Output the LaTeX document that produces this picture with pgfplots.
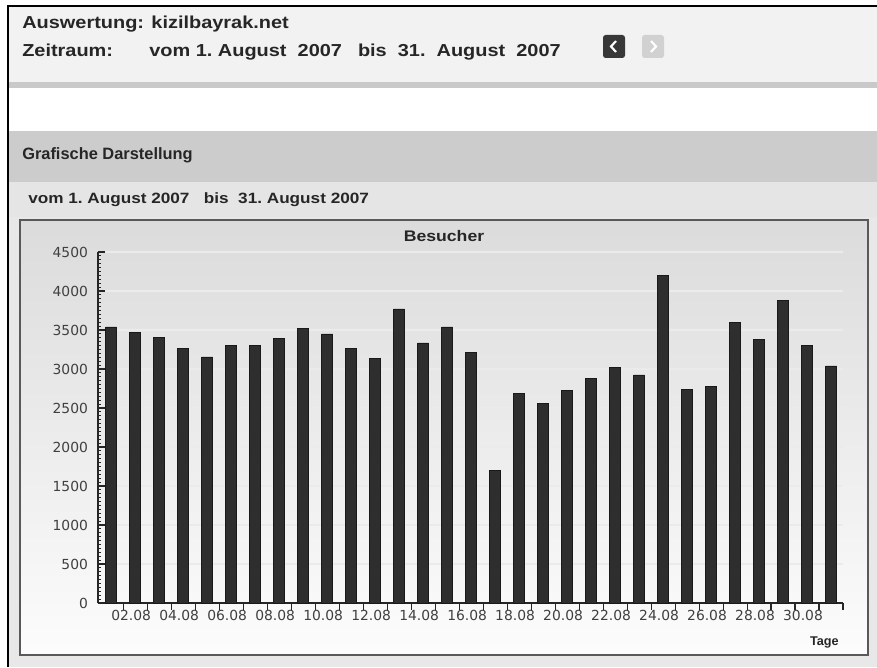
\documentclass[border=0pt]{standalone}
\usepackage{pgfplots}
\pgfplotsset{compat=1.18}
\usepackage{fontspec}
\setmainfont{Liberation Sans}
\newfontfamily\hd[FakeStretch=1.15]{Liberation Sans}
\newfontfamily\tk{DejaVu Sans}

\definecolor{barc}{HTML}{2E2E2E}
\definecolor{lbl}{HTML}{404040}

\begin{document}
\begin{tikzpicture}[x=0.75pt,y=0.75pt]
% page (1 unit = 1 px of the screenshot, y counted from the bottom)
\path[use as bounding box] (0,0) rectangle (877,667);
\fill[white] (0,0) rectangle (877,667);
\fill[black!9] (8,0) rectangle (877,485);
\fill[black!5] (8,585) rectangle (877,661);
\fill[black!21] (8,579) rectangle (877,585);
\fill[white] (8,536) rectangle (877,579);
\fill[black!20] (8,485) rectangle (877,536);
\fill[black!10] (8,450) rectangle (877,485);
\draw[black, line width=1pt] (8,0) -- (8,661) -- (877,661);

% header
\node[anchor=base west, inner sep=0, font=\hd\bfseries\fontsize{13pt}{15pt}\selectfont, text=black!85] at (22,638) {Auswertung: kizilbayrak.net};
\node[anchor=base west, inner sep=0, font=\hd\bfseries\fontsize{13pt}{15pt}\selectfont, text=black!85] at (22,610) {Zeitraum:};
\node[anchor=base west, inner sep=0, font=\hd\bfseries\fontsize{13pt}{15pt}\selectfont, text=black!85] at (149,610) {vom 1.\ August\ \ 2007};
\node[anchor=base east, inner sep=0, font=\hd\bfseries\fontsize{13pt}{15pt}\selectfont, text=black!85] at (561,610) {bis\ \ 31.\ \ August\ \ 2007};
\fill[black!78, rounded corners=2] (603,609) rectangle (625,632);
\draw[white, line width=1.6pt] (616,626) -- (611,620.5) -- (616,615);
\fill[black!18, rounded corners=2] (642,609) rectangle (664,632);
\draw[white, line width=1.6pt] (651,626) -- (656,620.5) -- (651,615);

\node[anchor=base west, inner sep=0, font=\bfseries\fontsize{12.3pt}{14pt}\selectfont, text=black!85] at (22,507) {Grafische Darstellung};
\node[anchor=base west, inner sep=0, font=\hd\bfseries\fontsize{11.2pt}{13pt}\selectfont, text=black!85] at (28,463) {vom 1.\ August\ 2007\ \ \ bis\ \ 31.\ August\ 2007};

% chart box
\shade[top color=black!14, bottom color=black!1] (20,12) rectangle (868,447);
\draw[black!65, line width=1.2pt] (20,12) rectangle (868,447);
\node[anchor=base, inner sep=0, font=\hd\bfseries\fontsize{11.5pt}{13pt}\selectfont, text=black!85] at (444,425) {Besucher};
\node[anchor=base east, inner sep=0, font=\bfseries\fontsize{9.5pt}{11pt}\selectfont, text=black!85] at (839,22) {Tage};

\begin{axis}[
    at={(73.5pt,48pt)}, anchor=south west,
    scale only axis, width=558.75pt, height=263.25pt,
    xmin=0.45, xmax=31.5, ymin=0, ymax=4500,
    axis lines=left,
    axis line style={-, black!85, line width=1pt},
    tick align=inside,
    tick style={black!85, line width=0.8pt},
    major tick length=5pt, minor tick length=2.5pt,
    xtick={1.5,2.5,...,31.5}, xticklabels={},
    extra x ticks={2,4,...,30},
    extra x tick labels={02.08,04.08,06.08,08.08,10.08,12.08,14.08,16.08,18.08,20.08,22.08,24.08,26.08,28.08,30.08},
    extra x tick style={major tick length=0pt, tick label style={xshift=-3pt, yshift=-1.5pt}},
    ytick={0,500,...,4500}, minor y tick num=9,
    ymajorgrids, major grid style={black!8, line width=0.8pt},
    yticklabel style={xshift=-4pt},
    tick label style={font=\tk\fontsize{10.4pt}{12pt}\selectfont, text=lbl},
    /pgf/number format/assume math mode=true,
    /pgf/number format/1000 sep={},
    ybar, bar width=8.25pt,
]
\addplot[draw=black!90, fill=barc, line width=0.5pt] coordinates {
    (1,3540) (2,3470) (3,3400) (4,3265) (5,3155) (6,3300) (7,3300) (8,3395)
    (9,3525) (10,3450) (11,3265) (12,3135) (13,3770) (14,3335) (15,3540) (16,3210)
    (17,1695) (18,2690) (19,2555) (20,2725) (21,2875) (22,3020) (23,2925) (24,4195)
    (25,2740) (26,2780) (27,3600) (28,3380) (29,3880) (30,3300) (31,3040)
};
\end{axis}
\end{tikzpicture}
\end{document}
